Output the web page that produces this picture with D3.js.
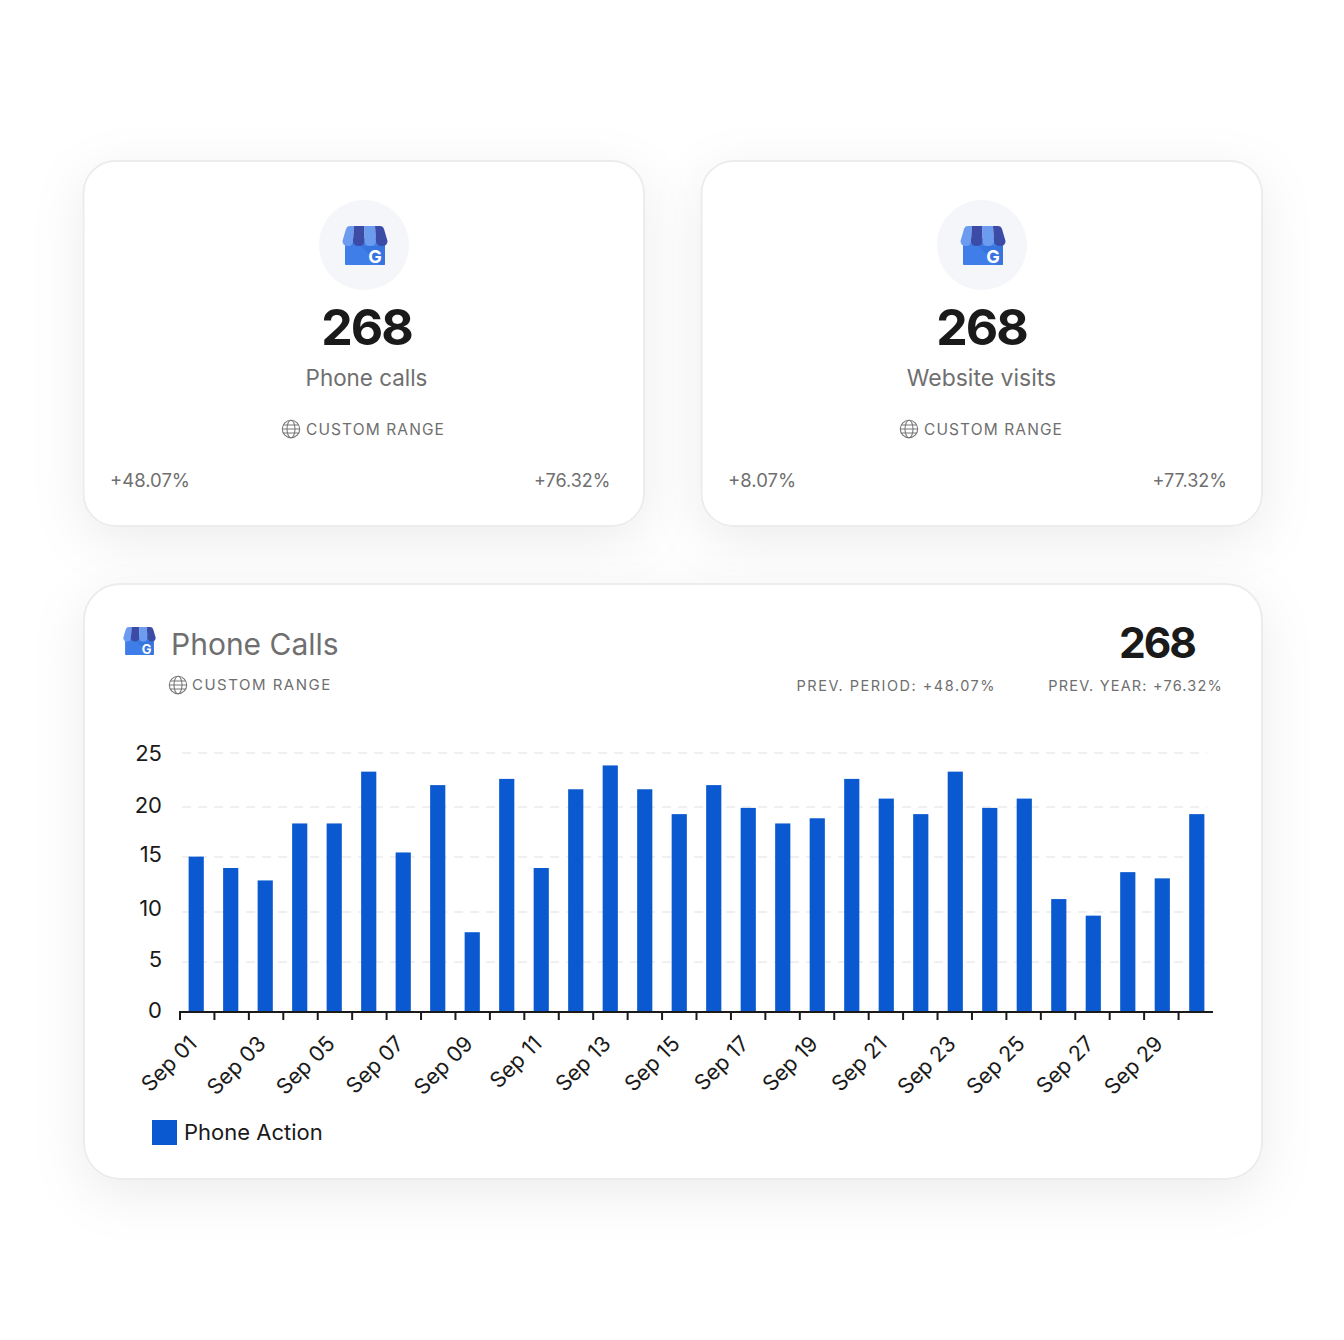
<!DOCTYPE html>
<html>
  <head>
    <meta charset="utf-8">
    <script src="https://d3js.org/d3.v7.min.js"></script>
    <style>
      html, body { margin: 0; padding: 0; background: #fff; }
      svg { display: block; }
      text { font-family: 'Inter', 'Roboto', sans-serif; }
    </style>
  </head>
  <body>
    <svg id="chart" width="1344" height="1340"></svg>
    <script>
      var days = ['Sep 01','Sep 02','Sep 03','Sep 04','Sep 05','Sep 06','Sep 07','Sep 08','Sep 09','Sep 10',
                  'Sep 11','Sep 12','Sep 13','Sep 14','Sep 15','Sep 16','Sep 17','Sep 18','Sep 19','Sep 20',
                  'Sep 21','Sep 22','Sep 23','Sep 24','Sep 25','Sep 26','Sep 27','Sep 28','Sep 29','Sep 30'];
      var phoneAction = [15, 13.9, 12.7, 18.2, 18.2, 23.2, 15.4, 21.9, 7.7, 22.5,
                         13.9, 21.5, 23.8, 21.5, 19.1, 21.9, 19.7, 18.2, 18.7, 22.5,
                         20.6, 19.1, 23.2, 19.7, 20.6, 10.9, 9.3, 13.5, 12.9, 19.1];
      var yTicks = [0, 5, 10, 15, 20, 25];
      var cardLabels = ['Phone calls', 'Website visits'];
      var cardTotals = ['268', '268'];
      var cardPrevPeriod = ['+48.07%', '+8.07%'];
      var cardPrevYear = ['+76.32%', '+77.32%'];

      var svg = d3.select('#chart');
      var blue = '#0a59d1', grey = '#6f6f6f', dark = '#1a1a1a';

      var defs = svg.append('defs');
      var shadow = defs.append('filter').attr('id', 'shadow')
        .attr('x', '-20%').attr('y', '-25%').attr('width', '140%').attr('height', '160%');
      shadow.append('feDropShadow').attr('dx', 0).attr('dy', 14).attr('stdDeviation', 26)
        .attr('flood-color', '#000').attr('flood-opacity', 0.075);

      function panel(x, y, w, h, r) {
        svg.append('rect').attr('x', x).attr('y', y).attr('width', w).attr('height', h).attr('rx', r)
          .attr('fill', '#fff').attr('stroke', '#ececec').attr('stroke-width', 2)
          .attr('filter', 'url(#shadow)');
      }

      // store icon, s = 1 is the 45px wide version on the small cards
      function store(cx, top, s) {
        var g = svg.append('g').attr('transform', 'translate(' + cx + ',' + top + ') scale(' + s + ')');
        g.append('path').attr('d', 'M-20 12 H20 V38 Q20 39 19 39 H-19 Q-20 39 -20 38 Z').attr('fill', '#3f7ee8');
        g.append('path').attr('d', 'M-4 20 L20 20 L20 39 L14 39 Z').attr('fill', '#2f68d0').attr('opacity', 0.45);
        g.append('path').attr('d', 'M-15 0 H-11 L-12 15 Q-12 20 -17 20 Q-22.5 20 -22.5 15 L-19 3 Q-18 0 -15 0 Z').attr('fill', '#6c9cf0');
        g.append('path').attr('d', 'M-11 0 H-0.5 V15 Q-0.5 20 -6 20 Q-12 20 -12 15 Z').attr('fill', '#3c4ba6');
        g.append('path').attr('d', 'M-0.5 0 H10 L11 15 Q11 20 5 20 Q-0.5 20 -0.5 15 Z').attr('fill', '#6c9cf0');
        g.append('path').attr('d', 'M10 0 H15 Q18 0 19 3 L22.5 15 Q22.5 20 17 20 Q11 20 11 15 Z').attr('fill', '#3c4ba6');
        g.append('text').attr('x', 10).attr('y', 37).attr('text-anchor', 'middle')
          .attr('font-size', 18).attr('font-weight', 700).attr('fill', '#fff').text('G');
      }

      function globe(cx, cy) {
        var g = svg.append('g').attr('transform', 'translate(' + cx + ',' + cy + ')')
          .attr('fill', 'none').attr('stroke', '#777').attr('stroke-width', 1.1);
        g.append('circle').attr('r', 8.7);
        g.append('ellipse').attr('rx', 4).attr('ry', 8.7);
        g.append('path').attr('d', 'M-7.5 -4 H7.5 M-8.7 0 H8.7 M-7.5 4 H7.5');
      }

      function txt(x, y, s, size, fill, anchor, weight, spacing) {
        return svg.append('text').attr('x', x).attr('y', y).attr('font-size', size).attr('fill', fill)
          .attr('text-anchor', anchor || 'start').attr('font-weight', weight || 400)
          .attr('letter-spacing', spacing || 0).text(s);
      }

      // two cards on top, centre of the texts is not quite the same in each
      var cardX = [84, 702], textCx = [366.5, 981.5], percentEnd = [610.5, 1227];
      cardLabels.forEach(function(label, i) {
        var x0 = cardX[i];
        panel(x0 - 0.5, 161, 560.5, 365, 32);
        svg.append('circle').attr('cx', x0 + 280).attr('cy', 245).attr('r', 45).attr('fill', '#f5f6f9');
        store(x0 + 281, 226, 1);
        txt(textCx[i], 345, cardTotals[i], 50, dark, 'middle', 700, -2);
        txt(textCx[i], 386, label, i == 0 ? 22.4 : 23, grey, 'middle');
        globe(x0 + 207, 429);
        txt(x0 + 222, 434.5, 'CUSTOM RANGE', 15.5, grey, 'start', 400, 1.1);
        txt(x0 + 26, 487, cardPrevPeriod[i], 18.5, grey);
        txt(percentEnd[i], 487, cardPrevYear[i], 18, grey, 'end');
      });

      panel(84, 584, 1178, 595, 36);
      store(139.5, 627, 0.72);
      txt(171, 655, 'Phone Calls', 30, grey);
      globe(178, 685);
      txt(192, 690, 'CUSTOM RANGE', 15, grey, 'start', 400, 1.5);
      txt(1195, 658, cardTotals[0], 42.5, dark, 'end', 700, -2);
      txt(996, 691, 'PREV. PERIOD: ' + cardPrevPeriod[0], 14.5, grey, 'end', 400, 1.5);
      txt(1223, 691, 'PREV. YEAR: ' + cardPrevYear[0], 14.5, grey, 'end', 400, 1.2);

      var x = d3.scaleBand().domain(days).range([180, 1213]).paddingInner(0.56).paddingOuter(0.25);
      var y = d3.scaleLinear().domain([0, 25]).range([1012, 753]);
      // the reference grid and its labels sit a little off the bars' scale
      var gridY = d3.scaleLinear().domain(yTicks).range([1012, 962, 912, 857, 807, 753]);
      var labelY = d3.scaleLinear().domain(yTicks).range([1010, 959, 908, 854, 805, 753]);

      // grid
      svg.append('g').selectAll('line').data(yTicks.slice(1)).join('line')
        .attr('x1', 182).attr('x2', 1207)
        .attr('y1', function(d) { return gridY(d); }).attr('y2', function(d) { return gridY(d); })
        .attr('stroke', '#ebebeb').attr('stroke-width', 1.5).attr('stroke-dasharray', '9 7');

      svg.append('g').selectAll('rect').data(days).join('rect')
        .attr('x', function(d) { return x(d); })
        .attr('width', x.bandwidth())
        .attr('y', function(d, i) { return y(phoneAction[i]); })
        .attr('height', function(d, i) { return y(0) - y(phoneAction[i]); })
        .attr('fill', blue);

      // y labels
      svg.append('g').selectAll('text').data(yTicks).join('text')
        .attr('x', 162).attr('y', function(d) { return labelY(d) + 8; })
        .attr('text-anchor', 'end').attr('font-size', 22).attr('fill', dark)
        .text(function(d) { return d; });

      // x axis: ticks on band edges, labels on odd days
      var tickStep = (1213 - 180) / days.length;
      var axisG = svg.append('g');
      axisG.append('line').attr('x1', 179).attr('x2', 1213).attr('y1', 1012).attr('y2', 1012)
        .attr('stroke', dark).attr('stroke-width', 2);
      axisG.selectAll('.tick').data(days).join('line').attr('class', 'tick')
        .attr('x1', function(d, i) { return 180 + i * tickStep; })
        .attr('x2', function(d, i) { return 180 + i * tickStep; })
        .attr('y1', 1012).attr('y2', 1020)
        .attr('stroke', dark).attr('stroke-width', 2);
      axisG.selectAll('.lab').data(days.filter(function(d, i) { return i % 2 == 0; })).join('text').attr('class', 'lab')
        .attr('text-anchor', 'end').attr('font-size', 21.5).attr('fill', dark)
        .attr('transform', function(d) { return 'translate(' + (x(d) + x.bandwidth() / 2 + 2) + ',1045) rotate(-45)'; })
        .text(function(d) { return d; });

      // legend
      svg.append('rect').attr('x', 152).attr('y', 1120).attr('width', 25).attr('height', 25).attr('fill', blue);
      txt(184, 1140, 'Phone Action', 22, dark);
    </script>
  </body>
</html>
